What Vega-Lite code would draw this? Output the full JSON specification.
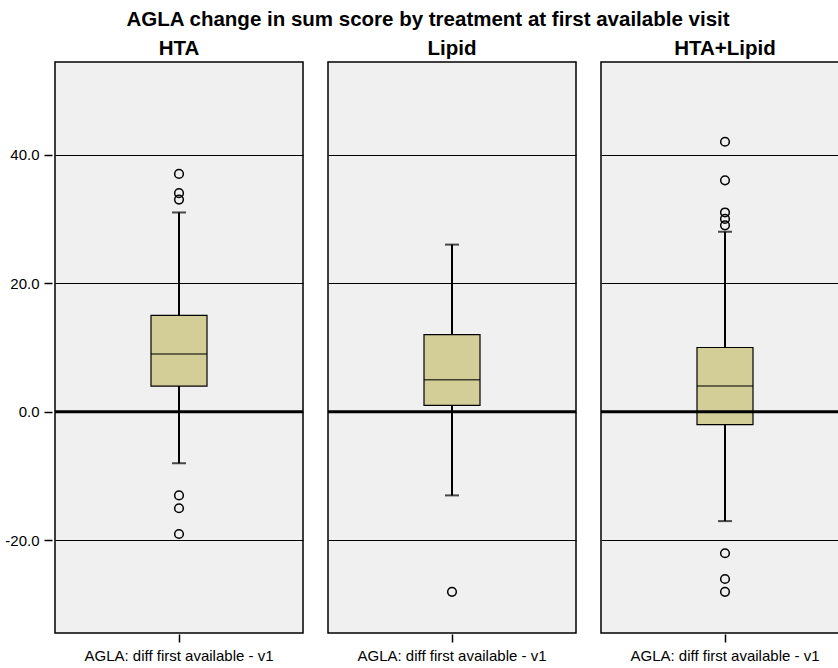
{
  "$schema": "https://vega.github.io/schema/vega-lite/v6.json",
  "padding": {"left": 4, "top": 10, "right": -11, "bottom": 0},
  "background": "white",
  "title": {"text": "AGLA change in sum score by treatment at first available visit", "font": "Liberation Sans", "fontSize": 20.5, "fontWeight": "bold", "color": "black", "anchor": "middle", "offset": 8},
  "data": {"values": [
    {"treatment": "HTA", "variable": "AGLA: diff first available - v1", "kind": "box", "lower": -8, "q1": 4, "median": 9, "q3": 15, "upper": 31},
    {"treatment": "Lipid", "variable": "AGLA: diff first available - v1", "kind": "box", "lower": -13, "q1": 1, "median": 5, "q3": 12, "upper": 26},
    {"treatment": "HTA+Lipid", "variable": "AGLA: diff first available - v1", "kind": "box", "lower": -17, "q1": -2, "median": 4, "q3": 10, "upper": 28},
    {"treatment": "HTA", "variable": "AGLA: diff first available - v1", "kind": "outlier", "value": 37},
    {"treatment": "HTA", "variable": "AGLA: diff first available - v1", "kind": "outlier", "value": 34},
    {"treatment": "HTA", "variable": "AGLA: diff first available - v1", "kind": "outlier", "value": 33},
    {"treatment": "HTA", "variable": "AGLA: diff first available - v1", "kind": "outlier", "value": -13},
    {"treatment": "HTA", "variable": "AGLA: diff first available - v1", "kind": "outlier", "value": -15},
    {"treatment": "HTA", "variable": "AGLA: diff first available - v1", "kind": "outlier", "value": -19},
    {"treatment": "Lipid", "variable": "AGLA: diff first available - v1", "kind": "outlier", "value": -28},
    {"treatment": "HTA+Lipid", "variable": "AGLA: diff first available - v1", "kind": "outlier", "value": 42},
    {"treatment": "HTA+Lipid", "variable": "AGLA: diff first available - v1", "kind": "outlier", "value": 36},
    {"treatment": "HTA+Lipid", "variable": "AGLA: diff first available - v1", "kind": "outlier", "value": 31},
    {"treatment": "HTA+Lipid", "variable": "AGLA: diff first available - v1", "kind": "outlier", "value": 30},
    {"treatment": "HTA+Lipid", "variable": "AGLA: diff first available - v1", "kind": "outlier", "value": 29},
    {"treatment": "HTA+Lipid", "variable": "AGLA: diff first available - v1", "kind": "outlier", "value": -22},
    {"treatment": "HTA+Lipid", "variable": "AGLA: diff first available - v1", "kind": "outlier", "value": -26},
    {"treatment": "HTA+Lipid", "variable": "AGLA: diff first available - v1", "kind": "outlier", "value": -28}
  ]},
  "facet": {"column": {"field": "treatment", "type": "nominal", "sort": ["HTA", "Lipid", "HTA+Lipid"],
    "header": {"title": null, "labelFont": "Liberation Sans", "labelFontSize": 20.5, "labelFontWeight": "bold", "labelColor": "black", "labelPadding": 2}}},
  "spacing": 19,
  "spec": {
    "width": 248,
    "height": 571,
    "layer": [
      {
        "transform": [{"filter": "datum.kind === 'box'"}],
        "mark": {"type": "rule", "color": "black", "strokeWidth": 2},
        "encoding": {
          "x": {"field": "variable", "type": "nominal", "axis": {"title": null, "labelAngle": 0, "labelLimit": 0, "domain": false, "tickSize": 8, "tickColor": "black", "tickWidth": 1.5, "labelFont": "Liberation Sans", "labelFontSize": 15, "labelColor": "black", "labelPadding": 6}},
          "y": {"field": "lower", "type": "quantitative", "scale": {"domain": [-34.4, 54.4], "nice": false, "zero": false},
            "axis": {"title": null, "values": [-20, 0, 20, 40], "format": ".1f", "labelExpr": "replace(datum.label, '\u2212', '-')", "domain": false, "tickSize": 8, "tickColor": "black", "tickWidth": 1.5, "labelFont": "Liberation Sans", "labelFontSize": 15, "labelColor": "black", "labelPadding": 5, "grid": true, "gridColor": "black", "gridOpacity": 1, "gridWidth": 1}},
          "y2": {"field": "upper"}
        }
      },
      {
        "transform": [{"filter": "datum.kind === 'box'"}],
        "mark": {"type": "tick", "color": "black", "size": 14, "thickness": 2},
        "encoding": {
          "x": {"field": "variable", "type": "nominal"},
          "y": {"field": "lower", "type": "quantitative"}
        }
      },
      {
        "transform": [{"filter": "datum.kind === 'box'"}],
        "mark": {"type": "tick", "color": "black", "size": 14, "thickness": 2},
        "encoding": {
          "x": {"field": "variable", "type": "nominal"},
          "y": {"field": "upper", "type": "quantitative"}
        }
      },
      {
        "transform": [{"filter": "datum.kind === 'box'"}],
        "mark": {"type": "bar", "fill": "#d3ce97", "stroke": "black", "strokeWidth": 1.2, "size": 56},
        "encoding": {
          "x": {"field": "variable", "type": "nominal"},
          "y": {"field": "q1", "type": "quantitative"},
          "y2": {"field": "q3"}
        }
      },
      {
        "transform": [{"filter": "datum.kind === 'box'"}],
        "mark": {"type": "tick", "color": "black", "size": 56, "thickness": 1.5},
        "encoding": {
          "x": {"field": "variable", "type": "nominal"},
          "y": {"field": "median", "type": "quantitative"}
        }
      },
      {
        "transform": [{"filter": "datum.kind === 'box'"}],
        "mark": {"type": "rule", "color": "black", "strokeWidth": 3},
        "encoding": {
          "y": {"datum": 0, "type": "quantitative"}
        }
      },
      {
        "transform": [{"filter": "datum.kind === 'outlier'"}],
        "mark": {"type": "point", "shape": "circle", "filled": false, "stroke": "black", "strokeWidth": 1.5, "size": 75, "opacity": 1},
        "encoding": {
          "x": {"field": "variable", "type": "nominal"},
          "y": {"field": "value", "type": "quantitative"}
        }
      }
    ]
  },
  "config": {
    "view": {"fill": "#f0f0f0", "stroke": "black", "strokeWidth": 1.5},
    "font": "Liberation Sans"
  }
}
